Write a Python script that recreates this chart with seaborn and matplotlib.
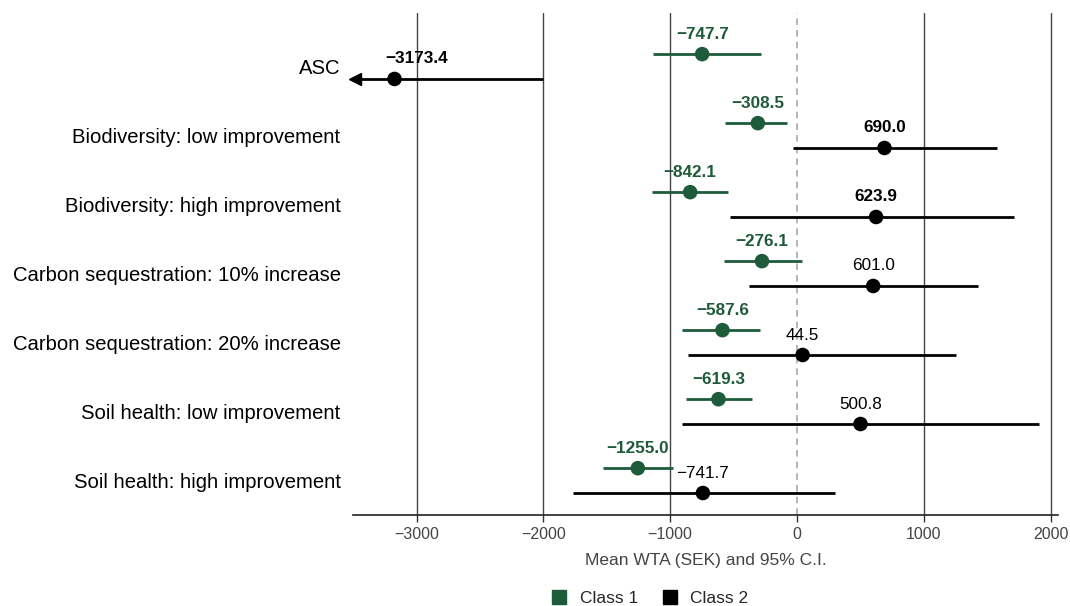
#!/usr/bin/env python3
# Forest-style plot of mean WTA per attribute for two latent classes

import numpy as np
import pandas as pd
import matplotlib
matplotlib.use("Agg")
import matplotlib.pyplot as plt
from matplotlib import font_manager
from matplotlib.lines import Line2D
import seaborn as sns

### Data
attributes = ["ASC",
              "Biodiversity: low improvement",
              "Biodiversity: high improvement",
              "Carbon sequestration: 10% increase",
              "Carbon sequestration: 20% increase",
              "Soil health: low improvement",
              "Soil health: high improvement"]

class1_mean = [-747.7, -308.5, -842.1, -276.1, -587.6, -619.3, -1255.0]
class1_low = [-1136, -568, -1146, -576, -909, -875, -1527]
class1_high = [-284, -81, -544, 39, -292, -355, -976]
class1_bold = [True, True, True, True, True, True, True]

class2_mean = [-3173.4, 690.0, 623.9, 601.0, 44.5, 500.8, -741.7]
class2_low = [-4400, -30, -528, -376, -862, -909, -1764]
class2_high = [-2003, 1575, 1711, 1425, 1254, 1908, 300]
class2_bold = [True, True, True, False, False, False, False]

class_names = ["Class 1", "Class 2"]
class_colors = ["#1e5b3a", "#000000"]

XMIN, XMAX = -3500, 2060

# long table for seaborn
rows = []
for k, (means, lows, highs, bolds) in enumerate([
        (class1_mean, class1_low, class1_high, class1_bold),
        (class2_mean, class2_low, class2_high, class2_bold)]):
    for i, attr in enumerate(attributes):
        rows.append({"attribute": attr, "pos": i + (-0.18 if k == 0 else 0.18),
                     "cls": class_names[k], "mean": means[i],
                     "low": lows[i], "high": highs[i], "bold": bolds[i]})
df = pd.DataFrame(rows)

### Plot
sns.set_style("white")
plt.rcParams["font.family"] = ["Liberation Sans", "DejaVu Sans"]

fig = plt.figure(figsize=(10.7, 6.06), dpi=100)
ax = fig.add_axes([0.33, 0.15, 0.659, 0.829])

# vertical reference lines
for gx in [-3000, -2000, -1000, 1000, 2000]:
    ax.axvline(gx, color="#444444", lw=1.0, zorder=0)
ax.axvline(0, color="#aaaaaa", lw=1.2, ls=(0, (4, 3)), zorder=0)

# confidence intervals
palette = dict(zip(class_names, class_colors))
for _, r in df.iterrows():
    lo = max(r["low"], XMIN + 15)
    ax.hlines(r["pos"], lo, r["high"], color=palette[r["cls"]], lw=2, zorder=2)
    if r["low"] < XMIN:
        ax.plot(lo, r["pos"], marker="<", color=palette[r["cls"]],
                markersize=8, clip_on=False, zorder=3)

sns.scatterplot(data=df, x="mean", y="pos", hue="cls", palette=palette,
                s=110, edgecolor="none", legend=False, zorder=4, ax=ax)

# value labels above the points
for _, r in df.iterrows():
    lx = max(r["mean"], -3000)
    ax.annotate(f"{r['mean']:.1f}".replace("-", "\u2212"), (lx, r["pos"]),
                xytext=(0, 9), textcoords="offset points", ha="center", va="bottom",
                fontsize=12.3, color=palette[r["cls"]],
                fontweight="bold" if r["bold"] else "normal")

ax.set_xlim(XMIN, XMAX)
ax.set_ylim(6.5, -0.78)
ax.set_yticks(range(len(attributes)))
ax.set_yticklabels(attributes, fontsize=14.6, color="black")
ax.set_xticks([-3000, -2000, -1000, 0, 1000, 2000])
ax.set_xticklabels(["\u22123000", "\u22122000", "\u22121000", "0", "1000", "2000"],
                   fontsize=11.5)
ax.tick_params(axis="x", labelcolor="#444444", length=5,
               width=1, color="#333333", direction="out", bottom=True)
ax.tick_params(axis="y", length=0, pad=9)
ax.set_xlabel("Mean WTA (SEK) and 95% C.I.", fontsize=12.5, color="#444444",
              labelpad=8)
ax.set_ylabel("")

for side in ["left", "right", "top"]:
    ax.spines[side].set_visible(False)
ax.spines["bottom"].set_color("#222222")
ax.spines["bottom"].set_linewidth(1.2)

handles = [Line2D([], [], marker="s", ls="none", color=c, markersize=10, label=n)
           for n, c in zip(class_names, class_colors)]
fig.legend(handles=handles, loc="lower center", bbox_to_anchor=(0.603, -0.026),
           ncol=2, frameon=False, handletextpad=0.2, columnspacing=0.8,
           prop=font_manager.FontProperties(size=12.5))

plt.savefig("out.png", dpi=100)
